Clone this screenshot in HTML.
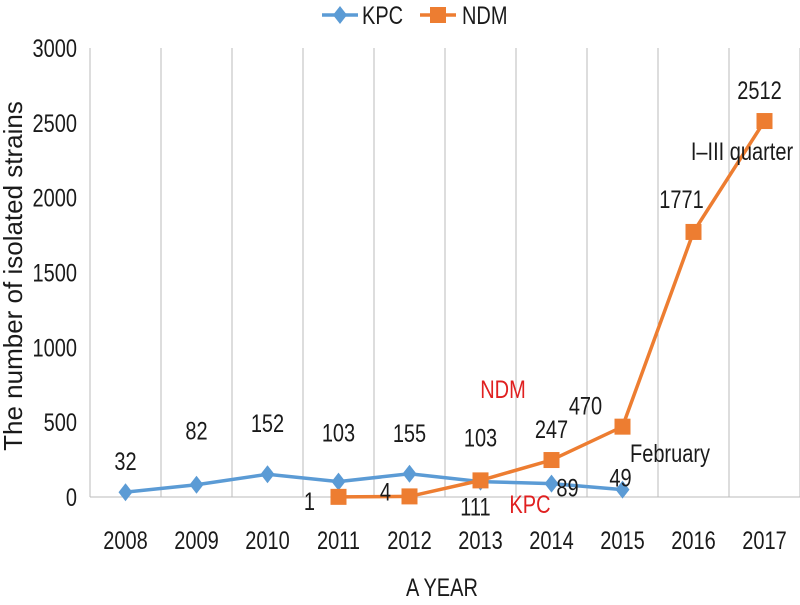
<!DOCTYPE html>
<html><head><meta charset="utf-8"><style>
body{margin:0;background:#fff;}
svg text{font-family:"Liberation Sans",sans-serif;fill:#1a1a1a;}
</style></head><body>
<svg width="800" height="600" id="c"></svg>
<script>
const years=["2008","2009","2010","2011","2012","2013","2014","2015","2016","2017"];
const kpc=[32,82,152,103,155,103,89,49,null,null];
const ndm=[null,null,null,1,4,111,247,470,1771,2512];
const yTicks=[0,500,1000,1500,2000,2500,3000];
const kpcLabelDx=[0,0,0,0,0,0,16,-2];
const kpcLabelDy=[-22,-45,-42,-40,-32,-35,13,-3];
const ndmLabelDx=[0,0,0,-29,-24,-5,0,-37,-12,-5];
const ndmLabelDy=[0,0,0,13,4,35,-22,-12,-24,-22];
const NS="http://www.w3.org/2000/svg";
const svg=document.getElementById('c');
const L=90,W=710,Y0=497,Y1=48,YMAX=3000,FS=25,SX=0.8;
const bw=W/years.length;
const x=i=>L+bw*(i+0.5);
const y=v=>Y0-(v/YMAX)*(Y0-Y1);
function mk(t,a,p){const e=document.createElementNS(NS,t);for(const k in a)e.setAttribute(k,a[k]);(p||svg).appendChild(e);return e;}
function txt(s,xx,yy,a){const e=mk('text',Object.assign({x:xx,y:yy,'font-size':FS,'text-anchor':'middle',transform:`translate(${xx} 0) scale(${SX} 1) translate(${-xx} 0)`},a||{}));e.textContent=s;return e;}
for(let i=0;i<=years.length;i++){const g=mk('line',{x1:L+bw*i,x2:L+bw*i,y1:Y1,y2:Y0,stroke:'#bbb','stroke-width':1});

}
const ax=mk('line',{x1:L,x2:L+W,y1:Y0,y2:Y0,stroke:'#bbb','stroke-width':1});


yTicks.forEach(v=>{const t=txt(String(v),77,y(v)+9,{'text-anchor':'end'});

});
years.forEach((s,i)=>{const t=txt(s,x(i),549);

});
const xt=txt('A YEAR',442,596);


const yt=mk('text',{x:22,y:276,'font-size':26,'text-anchor':'middle',transform:'rotate(-90 22 276)'});
yt.textContent='The number of isolated strains';


function series(data,color,name,marker){
  const pts=[];data.forEach((v,i)=>{if(v!==null)pts.push([x(i),y(v)]);});
  const pl=mk('polyline',{points:pts.map(p=>p.join(',')).join(' '),fill:'none',stroke:color,'stroke-width':3.5});
  
  
  pts.forEach(p=>{let m;
    if(marker==='d')m=mk('polygon',{points:`${p[0]},${p[1]-9} ${p[0]+7},${p[1]} ${p[0]},${p[1]+9} ${p[0]-7},${p[1]}`,fill:color});
    else m=mk('rect',{x:p[0]-8,y:p[1]-8,width:16,height:16,fill:color});
    
    });
}
series(kpc,'#5b9bd5','kpc','d');
series(ndm,'#ed7d31','ndm','s');
kpc.forEach((v,i)=>{if(v===null)return;const t=txt(String(v),x(i)+kpcLabelDx[i],y(v)+kpcLabelDy[i]);

});
ndm.forEach((v,i)=>{if(v===null)return;const t=txt(String(v),x(i)+ndmLabelDx[i],y(v)+ndmLabelDy[i]);

});
[['NDM',503,398,'#e02020'],['KPC',530,513,'#e02020'],['February',670,462,'#1a1a1a'],['I–III quarter',742,160,'#1a1a1a']].forEach(a=>{
  const t=txt(a[0],a[1],a[2]);t.style.fill=a[3];
  
  });
const lg=mk('g',{});


mk('line',{x1:322,x2:358,y1:15,y2:15,stroke:'#5b9bd5','stroke-width':3.5},lg);
mk('polygon',{points:'340,6 347,15 340,24 333,15',fill:'#5b9bd5'},lg);
lg.appendChild(txt('KPC',362,24,{'text-anchor':'start'}));
mk('line',{x1:420,x2:456,y1:15,y2:15,stroke:'#ed7d31','stroke-width':3.5},lg);
mk('rect',{x:430,y:7,width:16,height:16,fill:'#ed7d31'},lg);
lg.appendChild(txt('NDM',462,24,{'text-anchor':'start'}));
</script>
</body></html>
